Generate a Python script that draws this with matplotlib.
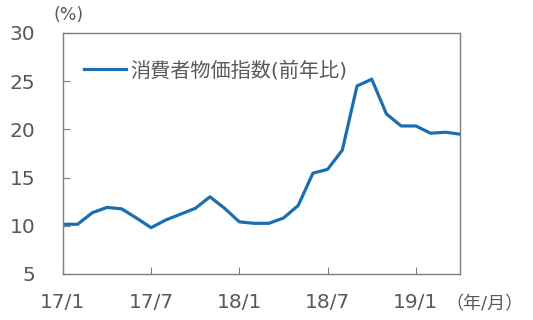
import matplotlib
matplotlib.use("Agg")
import matplotlib.pyplot as plt

plt.rcParams['font.family'] = ['DejaVu Sans', 'Noto Sans CJK JP']

# monthly CPI (yoy %), 17/1 .. 19/4
months = list(range(28))
cpi = [10.15, 10.15, 11.35, 11.9, 11.75, 10.8, 9.8, 10.6, 11.2, 11.8,
       13.0, 11.8, 10.4, 10.25, 10.25, 10.8, 12.1, 15.45, 15.85, 17.85,
       24.5, 25.2, 21.6, 20.35, 20.35, 19.6, 19.7, 19.5]
xtick_pos = [0, 6, 12, 18, 24]
xtick_lab = ["17/1", "17/7", "18/1", "18/7", "19/1"]
yticks = [5, 10, 15, 20, 25, 30]

txt = "#595959"
spine = "#7f7f7f"

fig = plt.figure(figsize=(5.33, 3.2), dpi=100)
ax = fig.add_axes([0.118, 0.144, 0.745, 0.753])

ax.plot(months, cpi, color="#1b6fb0", linewidth=2.3, label="消費者物価指数(前年比)")

ax.set_xlim(0, 27)
ax.set_ylim(5, 30)
ax.set_xticks(xtick_pos)
ax.set_xticklabels(xtick_lab)
ax.set_yticks(yticks)

for s in ax.spines.values():
    s.set_color(spine)
    s.set_linewidth(1.0)

ax.tick_params(axis="x", direction="in", length=5, color=spine, pad=14,
               labelsize=14.5, labelcolor=txt)
ax.tick_params(axis="y", direction="in", length=5, color=spine, pad=20,
               labelsize=14.5, labelcolor=txt)

ax.legend(loc="upper left", frameon=False, fontsize=14.5, handlelength=2.1,
          handletextpad=0.2, bbox_to_anchor=(0.033, 0.92), borderaxespad=0,
          labelcolor=txt)

fig.text(0.1, 0.953, "(%)", color=txt, fontsize=12.5, va="center")
fig.text(0.835, 0.048, "（年/月）", color=txt, fontsize=13, va="center")

fig.savefig("out.png", dpi=100)
